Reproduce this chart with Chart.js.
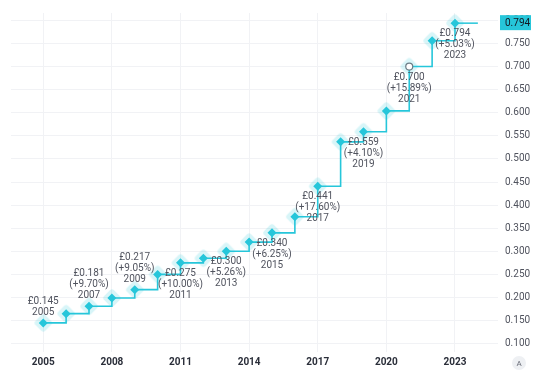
<!DOCTYPE html>
<html>
<head>
<meta charset="utf-8">
<title>Dividend per share</title>
<style>
  html, body { margin: 0; padding: 0; background: #ffffff; }
  #wrap { width: 533px; height: 373px; position: relative; }
</style>
</head>
<body>
<div id="wrap"><canvas id="divChart"></canvas></div>
<script src="https://cdn.jsdelivr.net/npm/chart.js@4.4.1/dist/chart.umd.min.js"></script>
<script>
// Dividend per share (GBP), one payment per year
const years = [2005, 2006, 2007, 2008, 2009, 2010, 2011, 2012, 2013, 2014,
               2015, 2016, 2017, 2018, 2019, 2020, 2021, 2022, 2023];
const dividends = [0.145, 0.165, 0.181, 0.199, 0.217, 0.250, 0.275, 0.285, 0.300, 0.320,
                   0.340, 0.375, 0.441, 0.537, 0.559, 0.604, 0.700, 0.756, 0.794];

// axis tick labels
const xTicks = [2005, 2008, 2011, 2014, 2017, 2020, 2023];

// which points get a text label, and which of those sit above the point
const labelledYears = [2005, 2007, 2009, 2011, 2013, 2015, 2017, 2019, 2021, 2023];
const labelsAbove = [2005, 2007, 2009];
const hollowYears = [2021];

const CYAN = '#26c6da';
const GRID = '#f1f2f5';
const TEXT = '#50535e';

Chart.defaults.font.family = 'Roboto, "Liberation Sans", sans-serif';

// rounded diamond used as the soft halo behind each point
function makeHalo() {
    const c = document.createElement('canvas');
    c.width = 22;
    c.height = 22;
    const g = c.getContext('2d');
    g.translate(11, 11);
    g.rotate(Math.PI / 4);
    const s = 14, r = 3;
    g.beginPath();
    g.moveTo(-s / 2 + r, -s / 2);
    g.arcTo(s / 2, -s / 2, s / 2, s / 2, r);
    g.arcTo(s / 2, s / 2, -s / 2, s / 2, r);
    g.arcTo(-s / 2, s / 2, -s / 2, -s / 2, r);
    g.arcTo(-s / 2, -s / 2, s / 2, -s / 2, r);
    g.closePath();
    g.fillStyle = 'rgba(38, 198, 218, 0.18)';
    g.fill();
    return c;
}
const halo = makeHalo();

// value labels next to the points: price, change vs previous year, year
const pointLabels = {
    id: 'pointLabels',
    afterDatasetsDraw(chart) {
        const ctx = chart.ctx;
        const meta = chart.getDatasetMeta(0);
        ctx.save();
        ctx.font = '10px Roboto, "Liberation Sans", sans-serif';
        ctx.fillStyle = TEXT;
        ctx.textAlign = 'center';
        ctx.textBaseline = 'middle';
        years.forEach((yr, i) => {
            if (!labelledYears.includes(yr)) return;
            const pt = meta.data[i];
            const lines = ['£' + dividends[i].toFixed(3)];
            if (i > 0) {
                const pct = (dividends[i] / dividends[i - 1] - 1) * 100;
                lines.push('(+' + pct.toFixed(2) + '%)');
            }
            lines.push(String(yr));
            const lh = 11;
            lines.forEach((txt, k) => {
                let y;
                if (labelsAbove.includes(yr)) {
                    y = pt.y - 10.5 - (lines.length - 1 - k) * lh;
                } else {
                    y = pt.y + 10.5 + k * lh;
                }
                ctx.fillText(txt, pt.x, y);
            });
        });
        ctx.restore();
    }
};

// last value: line carried on one period, price tag on the axis, "A" button
const lastValue = {
    id: 'lastValue',
    afterDraw(chart) {
        const ctx = chart.ctx;
        const xs = chart.scales.x;
        const ys = chart.scales.y;
        const n = dividends.length - 1;
        const y = ys.getPixelForValue(dividends[n]);
        const x0 = xs.getPixelForValue(years[n]);
        const x1 = xs.getPixelForValue(years[n] + 1);

        ctx.save();
        ctx.strokeStyle = CYAN;
        ctx.lineWidth = 1.5;
        ctx.beginPath();
        ctx.moveTo(x0, y);
        ctx.lineTo(x1, y);
        ctx.stroke();

        // price tag
        const left = chart.chartArea.right + 2;
        ctx.fillStyle = CYAN;
        ctx.fillRect(left, y - 8, 531 - left, 15);
        ctx.fillStyle = '#131722';
        ctx.font = '10px Roboto, "Liberation Sans", sans-serif';
        ctx.textAlign = 'left';
        ctx.textBaseline = 'middle';
        ctx.fillText(dividends[n].toFixed(3), chart.chartArea.right + 7, y);

        // auto-scale button
        ctx.beginPath();
        ctx.arc(519, 363, 7, 0, Math.PI * 2);
        ctx.fillStyle = '#eef0f3';
        ctx.fill();
        ctx.fillStyle = '#6a6d78';
        ctx.font = '8px Roboto, "Liberation Sans", sans-serif';
        ctx.textAlign = 'center';
        ctx.fillText('A', 519, 363.5);
        ctx.restore();
    }
};

const isHollow = c => hollowYears.includes(years[c.dataIndex]);

new Chart(document.getElementById('divChart'), {
    type: 'line',
    data: {
        datasets: [{
            // main stepped line
            data: years.map((yr, i) => ({ x: yr, y: dividends[i] })),
            stepped: true,
            borderColor: CYAN,
            borderWidth: 1.6,
            pointStyle: c => isHollow(c) ? 'circle' : 'rectRot',
            pointRadius: c => isHollow(c) ? 3.5 : 4.5,
            pointBackgroundColor: c => isHollow(c) ? '#ffffff' : CYAN,
            pointBorderColor: c => isHollow(c) ? '#6b7c85' : CYAN,
            pointBorderWidth: c => isHollow(c) ? 1.2 : 0
        }, {
            // soft halo behind every point
            data: years.map((yr, i) => ({ x: yr, y: dividends[i] })),
            showLine: false,
            pointStyle: halo,
            pointRadius: 11,
            pointBorderWidth: 0
        }]
    },
    options: {
        responsive: true,
        maintainAspectRatio: false,
        animation: false,
        layout: { padding: 0 },
        plugins: {
            legend: { display: false },
            tooltip: { enabled: false }
        },
        scales: {
            x: {
                type: 'linear',
                min: 2003.59,
                max: 2024.88,
                afterBuildTicks: scale => { scale.ticks = xTicks.map(v => ({ value: v })); },
                afterFit: scale => { scale.height = 21; },
                border: { display: false },
                grid: { color: GRID, drawTicks: false },
                ticks: {
                    autoSkip: false,
                    maxRotation: 0,
                    padding: 4,
                    color: '#2a2e39',
                    font: { size: 10, weight: 'bold' },
                    callback: v => String(v)
                }
            },
            y: {
                position: 'right',
                min: 0.082,
                max: 0.816,
                afterFit: scale => { scale.width = 35; },
                border: { display: false },
                grid: { color: GRID, drawTicks: false },
                ticks: {
                    stepSize: 0.05,
                    includeBounds: false,
                    padding: 7,
                    color: TEXT,
                    font: { size: 10 },
                    callback: v => v.toFixed(3)
                }
            }
        }
    },
    plugins: [pointLabels, lastValue]
});
</script>
</body>
</html>
